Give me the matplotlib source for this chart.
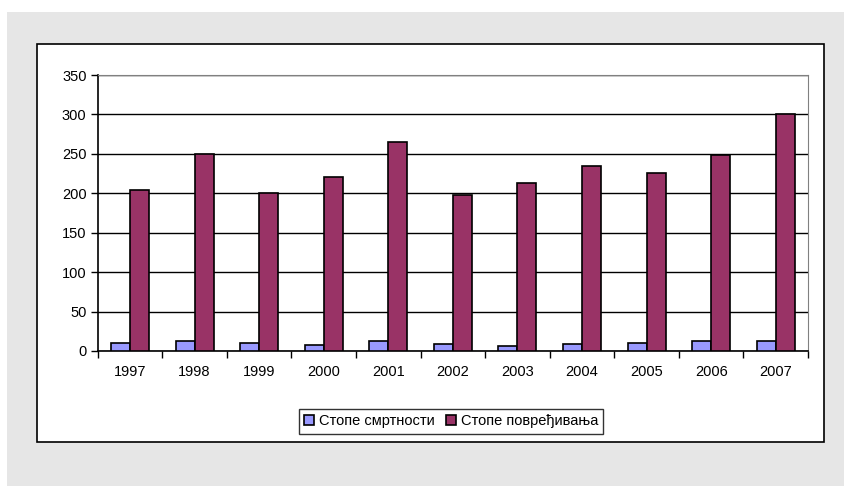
import numpy as np
import matplotlib
matplotlib.use("Agg")
import matplotlib.pyplot as plt
from matplotlib.patches import Rectangle

plt.rcParams['font.family'] = ['Liberation Sans', 'DejaVu Sans']

years = ["1997", "1998", "1999", "2000", "2001", "2002", "2003", "2004", "2005", "2006", "2007"]
mortality = [10.5, 12.5, 10.5, 8, 12.5, 8.5, 6.5, 8.5, 10.5, 12.5, 12.5]
injury = [204, 250, 200, 221, 265, 198, 213, 235, 226, 248, 300]
labels = ["Стопе смртности", "Стопе повређивања"]

W, H = 844, 486
fig = plt.figure(figsize=(W / 100, H / 100), dpi=100)
fig.patch.set_facecolor("white")

# outer grey panel and inner white box
fig.patches.append(Rectangle((7 / W, 0), 1, 1 - 12 / H, transform=fig.transFigure,
                             facecolor="#e6e6e6", edgecolor="none", zorder=0))
fig.patches.append(Rectangle((37 / W, 1 - 442 / H), (824 - 37) / W, (442 - 44) / H,
                             transform=fig.transFigure, facecolor="white",
                             edgecolor="black", linewidth=1.2, zorder=1))

ax = fig.add_axes([97.7 / W, 1 - 351 / H, (808 - 97.7) / W, (351 - 75) / H])
ax.set_zorder(2)
ax.set_facecolor("white")

x = np.arange(len(years))
w = 0.294
ax.bar(x - w / 2, mortality, w, color="#9999ff", edgecolor="black", linewidth=1.2,
       label=labels[0], zorder=3)
ax.bar(x + w / 2, injury, w, color="#993366", edgecolor="black", linewidth=1.2,
       label=labels[1], zorder=3)

ax.set_xlim(-0.5, len(years) - 0.5)
ax.set_ylim(0, 350)
ax.set_yticks(range(0, 351, 50))
ax.yaxis.grid(True, color="black", linewidth=1)
ax.set_axisbelow(True)

fs = 10.5
ax.set_xticks(x)
ax.set_xticklabels(years, fontsize=fs)
ax.tick_params(axis="x", length=0, pad=10)
ax.set_xticks(np.arange(-0.5, len(years), 1), minor=True)
ax.tick_params(axis="x", which="minor", length=5, width=1, direction="out")
ax.tick_params(axis="y", labelsize=fs, length=5, width=1, direction="out", pad=3)

for s in ["top", "right"]:
    ax.spines[s].set_color("#808080")
for s in ["left", "bottom"]:
    ax.spines[s].set_color("black")
    ax.spines[s].set_linewidth(1.2)

leg = fig.legend(loc="center", bbox_to_anchor=(451 / W, 1 - 421.5 / H), ncol=2,
                 fontsize=fs, frameon=True, fancybox=False, edgecolor="black",
                 handlelength=0.7, handleheight=0.7, handletextpad=0.3,
                 columnspacing=0.8, borderpad=0.35)
leg.get_frame().set_linewidth(1)
leg.set_zorder(5)

fig.savefig("out.png", dpi=100)
